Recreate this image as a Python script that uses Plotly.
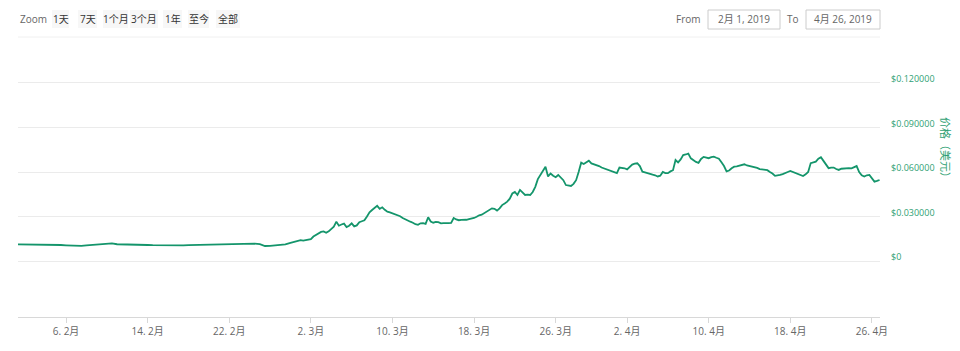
import pandas as pd
import plotly.graph_objects as go

# ---- data ----
feb_start = "2019-02-01 00:00"          # 12-hourly samples through February
feb_price = [
    0.0112, 0.0112, 0.0111, 0.0112, 0.0112, 0.0111, 0.0111, 0.0110, 0.0109, 0.0108,
    0.0106, 0.0103, 0.0101, 0.0102, 0.0106, 0.0108, 0.0111, 0.0114, 0.0113, 0.0119,
    0.0113, 0.0113, 0.0112, 0.0111, 0.0110, 0.0109, 0.0108, 0.0107, 0.0106, 0.0106,
    0.0105, 0.0105, 0.0106, 0.0106, 0.0107, 0.0108, 0.0108, 0.0109, 0.0109, 0.0110,
    0.0110, 0.0111, 0.0111, 0.0112, 0.0114, 0.0119, 0.0116, 0.0117, 0.0114, 0.0101,
    0.0102, 0.0105, 0.0108, 0.0112, 0.0122, 0.0133,
]
mar_start = "2019-03-01 00:00"          # 6-hourly samples from March on
mar_apr_price = [
    0.0140, 0.0137, 0.0141, 0.0144, 0.0148, 0.0165, 0.0176, 0.0185, 0.0196, 0.0199,
    0.0190, 0.0200, 0.0216, 0.0232, 0.0265, 0.0238, 0.0246, 0.0252, 0.0229, 0.0238,
    0.0254, 0.0233, 0.0240, 0.0262, 0.0268, 0.0274, 0.0300, 0.0328, 0.0344, 0.0360,
    0.0372, 0.0352, 0.0362, 0.0345, 0.0332, 0.0328, 0.0322, 0.0318, 0.0310, 0.0302,
    0.0290, 0.0280, 0.0272, 0.0265, 0.0258, 0.0248, 0.0244, 0.0254, 0.0255, 0.0250,
    0.0295, 0.0266, 0.0258, 0.0263, 0.0262, 0.0254, 0.0256, 0.0253, 0.0255, 0.0257,
    0.0290, 0.0280, 0.0275, 0.0277, 0.0276, 0.0278, 0.0283, 0.0286, 0.0290, 0.0298,
    0.0308, 0.0312, 0.0322, 0.0331, 0.0342, 0.0355, 0.0352, 0.0340, 0.0355, 0.0377,
    0.0388, 0.0400, 0.0420, 0.0455, 0.0465, 0.0445, 0.0479, 0.0460, 0.0445, 0.0448,
    0.0445, 0.0465, 0.0500, 0.0552, 0.0580, 0.0610, 0.0636, 0.0570, 0.0590, 0.0575,
    0.0565, 0.0580, 0.0565, 0.0545, 0.0512, 0.0508, 0.0506, 0.0520, 0.0545, 0.0600,
    0.0663, 0.0654, 0.0668, 0.0676, 0.0658, 0.0652, 0.0648, 0.0640, 0.0630, 0.0624,
    0.0618, 0.0614, 0.0608, 0.0600, 0.0592, 0.0630, 0.0630, 0.0625, 0.0618, 0.0632,
    0.0650, 0.0656, 0.0659, 0.0640, 0.0602, 0.0598, 0.0591, 0.0586, 0.0582, 0.0578,
    0.0570, 0.0575, 0.0600, 0.0592, 0.0592, 0.0604, 0.0612, 0.0681, 0.0665, 0.0685,
    0.0714, 0.0718, 0.0724, 0.0692, 0.0678, 0.0668, 0.0662, 0.0688, 0.0702, 0.0695,
    0.0693, 0.0700, 0.0703, 0.0696, 0.0690, 0.0665, 0.0640, 0.0604, 0.0610, 0.0625,
    0.0636, 0.0638, 0.0642, 0.0650, 0.0652, 0.0644, 0.0640, 0.0640, 0.0636, 0.0628,
    0.0620, 0.0616, 0.0614, 0.0612, 0.0600, 0.0590, 0.0574, 0.0576, 0.0580, 0.0586,
    0.0591, 0.0600, 0.0607, 0.0600, 0.0594, 0.0589, 0.0582, 0.0573, 0.0584, 0.0600,
    0.0660, 0.0664, 0.0670, 0.0690, 0.0700, 0.0675, 0.0650, 0.0626, 0.0630, 0.0630,
    0.0620, 0.0614, 0.0622, 0.0625, 0.0624, 0.0626, 0.0625, 0.0632, 0.0640, 0.0600,
    0.0578, 0.0570, 0.0578, 0.0580, 0.0558, 0.0535, 0.0540, 0.0546,
]
x_tick_dates = ["2019-02-06", "2019-02-14", "2019-02-22", "2019-03-02", "2019-03-10",
                "2019-03-18", "2019-03-26", "2019-04-02", "2019-04-10", "2019-04-18",
                "2019-04-26"]
y_ticks = [0, 0.03, 0.06, 0.09, 0.12]
y_tick_labels = ["$0", "$0.030000", "$0.060000", "$0.090000", "$0.120000"]
zoom_buttons = ["1天", "7天", "1个月", "3个月", "1年", "至今", "全部"]
from_text = "2月 1, 2019"
to_text = "4月 26, 2019"
y_title = "价格（美元）"

times = list(pd.date_range(feb_start, periods=len(feb_price), freq="12h")) + \
        list(pd.date_range(mar_start, periods=len(mar_apr_price), freq="6h"))
prices = feb_price + mar_apr_price

GREEN = "#14956b"
LABEL_GREEN = "#2f9f74"
FONT = "Open Sans, Noto Sans CJK SC, sans-serif"

W, H = 960, 351
L, R, T, B = 18, 80, 60, 34
pw = W - L - R
ph = H - T - B

def px_x(x):
    return (x - L) / pw

def px_y(y):
    return (H - B - y) / ph

fig = go.Figure()
fig.add_trace(go.Scatter(
    x=times, y=prices, mode="lines",
    line=dict(color=GREEN, width=1.8),
    hoverinfo="skip", showlegend=False,
))

annotations = []
shapes = []

annotations.append(dict(text="Zoom", x=px_x(18), y=px_y(19), xref="paper", yref="paper",
                        xanchor="left", yanchor="middle", showarrow=False,
                        font=dict(size=10, color="#666666", family=FONT)))
btn_pos = [(52, 69), (78, 97), (103, 128), (130, 158), (163, 182), (188, 209), (216, 240)]
for lab, (x0, x1) in zip(zoom_buttons, btn_pos):
    shapes.append(dict(type="rect", xref="paper", yref="paper",
                       x0=px_x(x0), x1=px_x(x1), y0=px_y(28), y1=px_y(10),
                       fillcolor="#f7f7f7", line=dict(width=0), layer="below"))
    annotations.append(dict(text=lab, x=px_x((x0 + x1) / 2), y=px_y(19), xref="paper", yref="paper",
                            xanchor="center", yanchor="middle", showarrow=False,
                            font=dict(size=10, color="#333333", family=FONT)))

annotations.append(dict(text="From", x=px_x(703), y=px_y(19), xref="paper", yref="paper",
                        xanchor="right", yanchor="middle", showarrow=False,
                        font=dict(size=10, color="#666666", family=FONT)))
annotations.append(dict(text="To", x=px_x(801), y=px_y(19), xref="paper", yref="paper",
                        xanchor="right", yanchor="middle", showarrow=False,
                        font=dict(size=10, color="#666666", family=FONT)))
for txt, (x0, x1) in [(from_text, (708, 780)), (to_text, (806, 880))]:
    shapes.append(dict(type="rect", xref="paper", yref="paper",
                       x0=px_x(x0), x1=px_x(x1), y0=px_y(29), y1=px_y(10),
                       fillcolor="white", line=dict(color="#cccccc", width=1)))
    annotations.append(dict(text=txt, x=px_x((x0 + x1) / 2), y=px_y(19.5), xref="paper", yref="paper",
                            xanchor="center", yanchor="middle", showarrow=False,
                            font=dict(size=10, color="#666666", family=FONT)))

shapes.append(dict(type="line", xref="paper", yref="paper",
                   x0=px_x(18), x1=px_x(880), y0=px_y(37), y1=px_y(37),
                   line=dict(color="#f0f0f0", width=1)))

annotations.append(dict(text=y_title, x=px_x(946), y=px_y(150), xref="paper", yref="paper",
                        xanchor="center", yanchor="middle", showarrow=False, textangle=90,
                        font=dict(size=11, color=LABEL_GREEN, family=FONT)))

fig.update_layout(
    width=W, height=H,
    margin=dict(l=L, r=R, t=T, b=B),
    paper_bgcolor="white", plot_bgcolor="white",
    font=dict(family=FONT),
    annotations=annotations, shapes=shapes,
    xaxis=dict(
        range=["2019-02-01 07:00", "2019-04-26 19:00"],
        tickvals=x_tick_dates, tickformat="%-d. %-m月",
        ticks="outside", ticklen=5, tickcolor="#d8d8d8",
        showline=True, linecolor="#d8d8d8", linewidth=1,
        showgrid=False, zeroline=False,
        tickfont=dict(size=10, color="#666666", family=FONT),
    ),
    yaxis=dict(
        side="right", range=[-0.03775, 0.1355],
        tickvals=y_ticks, ticktext=y_tick_labels,
        showgrid=True, gridcolor="#ebebeb", gridwidth=1,
        zeroline=False, showline=False, ticks="",
        ticklabelstandoff=10, ticklabelshift=-4,
        tickfont=dict(size=9, color=LABEL_GREEN, family=FONT),
    ),
)

fig.write_html("out.html")
